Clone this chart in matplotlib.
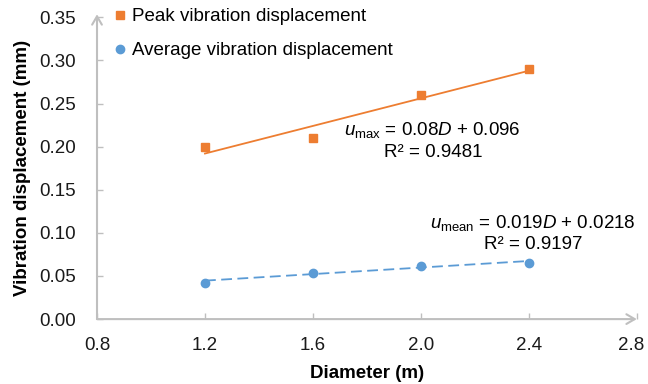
import numpy as np
import matplotlib.pyplot as plt
import matplotlib.transforms as mtransforms

plt.rcParams['font.family'] = ['Liberation Sans', 'DejaVu Sans']
plt.rcParams['mathtext.fontset'] = 'custom'
plt.rcParams['mathtext.rm'] = 'Liberation Sans'
plt.rcParams['mathtext.it'] = 'Liberation Sans:italic'

# 直径与振动位移数据
diameter = [1.2, 1.6, 2.0, 2.4]
peak_disp = [0.20, 0.21, 0.26, 0.29]
mean_disp = [0.042, 0.054, 0.062, 0.065]

# 线性拟合结果（斜率, 截距, R²）
peak_fit = (0.08, 0.096, 0.9481)
mean_fit = (0.019, 0.0218, 0.9197)

x_ticks = [0.8, 1.2, 1.6, 2.0, 2.4, 2.8]
y_ticks = [0.00, 0.05, 0.10, 0.15, 0.20, 0.25, 0.30, 0.35]

orange = '#ED7D31'
blue = '#5B9BD5'
axis_grey = '#BFBFBF'
fs = 13.5

fig = plt.figure(figsize=(6.48, 3.84), dpi=100)
ax = fig.add_axes([0.1497, 0.169, 0.833, 0.786])

# 散点
ax.plot(diameter, peak_disp, 's', color=orange, markersize=5.5, label='Peak vibration displacement', zorder=3)
ax.plot(diameter, mean_disp, 'o', color=blue, markersize=6, label='Average vibration displacement', zorder=3)

# 趋势线
xs = np.array([diameter[0], diameter[-1]])
ax.plot(xs, peak_fit[0] * xs + peak_fit[1], '-', color=orange, lw=1.3, zorder=2)
ax.plot(xs, mean_fit[0] * xs + mean_fit[1], '--', color=blue, lw=1.3, dashes=(6, 3), zorder=2)

ax.set_xlim(0.8, 2.8)
ax.set_ylim(0, 0.35)
ax.set_xticks(x_ticks)
ax.set_xticklabels([f'{v:.1f}' for v in x_ticks])
ax.set_yticks(y_ticks)
ax.set_yticklabels([f'{v:.2f}' for v in y_ticks])
ax.tick_params(direction='in', length=4, width=1, color=axis_grey, labelsize=fs,
               labelcolor='#1a1a1a')
ax.tick_params(axis='y', pad=15)
ax.tick_params(axis='x', pad=13)

# 最右侧刻度标签稍微左移，避免贴边被裁
last = ax.get_xticklabels()[-1]
last.set_transform(last.get_transform() + mtransforms.ScaledTranslation(-6 / 100, 0, fig.dpi_scale_trans))

for side in ['top', 'right', 'left', 'bottom']:
    ax.spines[side].set_visible(False)

# 带箭头的坐标轴
ax.annotate('', xy=(1.0, 0), xytext=(0, 0), xycoords='axes fraction',
            arrowprops=dict(arrowstyle='->,head_length=0.6,head_width=0.35', color=axis_grey, lw=1.5,
                            shrinkA=0, shrinkB=0), annotation_clip=False)
ax.annotate('', xy=(0, 1.01), xytext=(0, 0), xycoords='axes fraction',
            arrowprops=dict(arrowstyle='->,head_length=0.6,head_width=0.35', color=axis_grey, lw=1.5,
                            shrinkA=0, shrinkB=0), annotation_clip=False)

ax.set_xlabel('Diameter (m)', fontsize=fs, fontweight='bold', labelpad=8)
ax.set_ylabel('Vibration displacement (mm)', fontsize=fs, fontweight='bold', labelpad=6)

# 拟合方程
ax.text(2.044, 0.219, rf'$u_{{\mathrm{{max}}}}$ = {peak_fit[0]}$D$ + {peak_fit[1]}',
        fontsize=fs, ha='center', va='center', color='#000000')
ax.text(2.044, 0.1935, f'R² = {peak_fit[2]}', fontsize=fs, ha='center', va='center')
ax.text(2.415, 0.111, rf'$u_{{\mathrm{{mean}}}}$ = {mean_fit[0]}$D$ + {mean_fit[1]}',
        fontsize=fs, ha='center', va='center')
ax.text(2.415, 0.087, f'R² = {mean_fit[2]}', fontsize=fs, ha='center', va='center')

ax.legend(loc='upper left', bbox_to_anchor=(0.02, 1.055), frameon=False, fontsize=fs,
          handlelength=0.5, handletextpad=0.4, labelspacing=0.9, borderaxespad=0)

fig.savefig('out.png', dpi=100)
